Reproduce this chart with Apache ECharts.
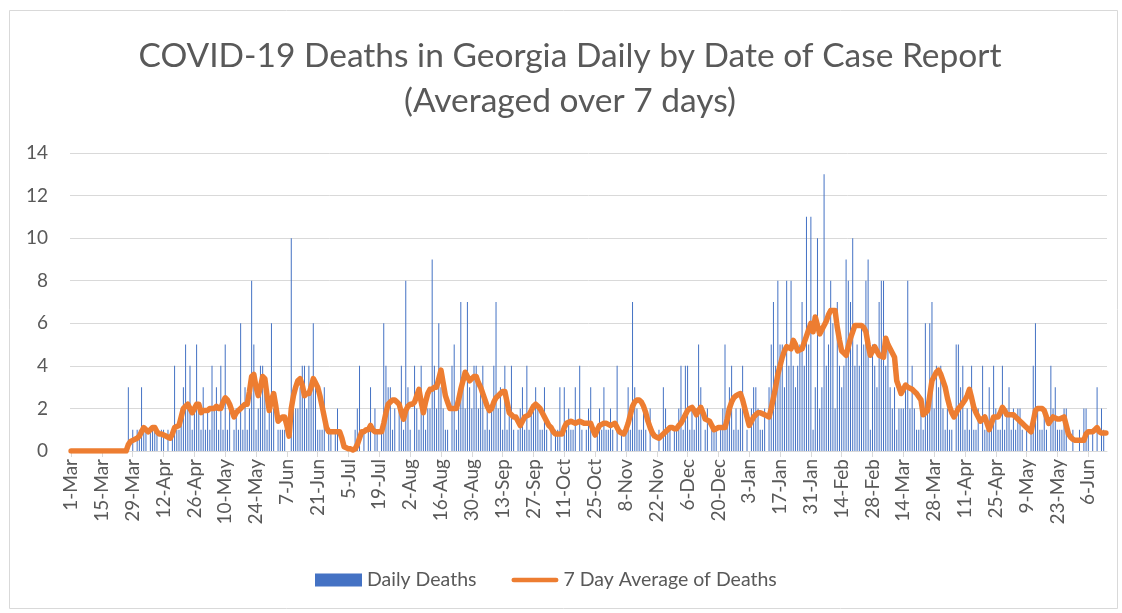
<!DOCTYPE html>
<html>
<head>
<meta charset="utf-8">
<script src="https://cdn.jsdelivr.net/npm/echarts@6/dist/echarts.min.js"></script>
<style>
html,body{margin:0;padding:0;background:#fff;}
#chart{width:1122px;height:613px;}
</style>
</head>
<body>
<div id="chart"></div>
<script>
// Categories: daily dates from 1-Mar-2020 to 14-Jun-2021 (471 days)
const startDate = [2020, 2, 1]; // year, month index, day
const dayCount = 471;
const monthNames = ['Jan','Feb','Mar','Apr','May','Jun','Jul','Aug','Sep','Oct','Nov','Dec'];

// Daily deaths (rows of 14 days)
const dailyDeaths = [
  0,0,0,0,0,0,0,0,0,0,0,0,0,0,
  0,0,0,0,0,0,0,0,0,0,0,0,3,0,
  1,0,1,1,3,1,1,0,1,1,1,1,0,1,
  1,0,1,0,1,4,1,1,2,3,5,2,4,1,
  2,5,2,1,3,1,2,1,4,2,3,1,4,1,
  5,1,2,0,1,2,1,6,1,3,1,2,8,5,
  1,2,4,4,3,1,2,6,2,0,1,1,1,1,
  0,0,10,3,2,2,3,4,4,2,4,3,6,3,
  1,1,1,3,0,1,1,0,1,2,0,0,0,0,
  0,0,0,1,2,4,0,1,0,1,3,0,2,1,
  0,1,6,4,3,3,1,2,0,2,4,1,8,3,
  1,0,4,2,1,4,2,1,2,2,9,4,2,6,
  3,2,1,1,0,4,5,1,2,7,3,2,7,3,
  2,4,4,2,3,4,1,2,1,2,4,7,2,3,
  1,4,1,2,4,1,0,1,2,3,1,4,1,2,
  2,3,2,1,1,3,1,0,1,0,1,1,3,0,
  3,1,2,1,1,3,0,4,1,0,1,2,3,0,
  0,1,2,1,3,1,1,2,1,0,4,0,1,0,
  1,3,1,7,3,2,1,1,2,1,0,2,0,0,
  0,1,0,3,2,1,1,0,1,1,2,4,1,4,
  4,1,2,1,2,5,3,0,1,2,0,1,1,1,
  0,1,2,5,2,3,4,1,2,1,2,4,0,1,
  0,2,3,3,2,1,1,2,0,3,5,7,4,8,
  5,5,3,8,4,8,4,3,4,5,7,4,11,5,
  11,1,3,10,2,3,13,4,5,8,6,2,7,4,
  3,4,9,8,7,10,4,5,4,6,5,8,9,1,
  5,4,3,7,8,8,4,5,3,2,3,1,2,2,
  2,3,8,2,4,2,1,1,2,1,6,2,6,7,
  2,4,3,4,2,1,2,1,1,0,5,5,3,4,
  1,2,1,4,1,1,2,0,4,1,1,3,1,4,
  2,1,1,4,1,2,3,1,2,1,2,2,1,0,
  1,0,1,4,6,2,1,1,2,1,0,4,2,3,
  1,1,1,2,2,0,0,1,0,0,1,0,2,2,
  1,0,1,0,3,0,2,1,0
];

// 7-day average of deaths (rows of 14 days)
const avgDeaths = [
  0,0,0,0,0,0,0,0,0,0,0,0,0,0,
  0,0,0,0,0,0,0,0,0,0,0,0,0.3,0.45,
  0.5,0.55,0.6,0.7,0.9,1.1,1.0,0.9,1.0,1.1,1.1,0.9,0.8,0.8,
  0.75,0.7,0.65,0.6,0.8,1.1,1.15,1.2,1.6,2.0,2.1,2.2,2.0,1.8,
  2.0,2.2,2.2,1.8,1.9,1.9,1.9,2.0,2.0,2.0,2.1,2.0,2.0,2.3,
  2.5,2.4,2.2,1.9,1.6,1.8,1.9,2.0,2.1,2.2,2.2,2.8,3.5,3.6,
  3.0,2.6,3.0,3.5,3.4,2.6,1.9,2.4,2.7,2.1,1.4,1.5,1.6,1.6,
  1.2,0.7,2.0,2.6,3.0,3.3,3.4,3.1,2.6,2.7,2.7,3.0,3.4,3.2,
  3.0,2.6,2.1,1.6,1.1,0.9,0.9,0.9,0.9,0.9,0.9,0.6,0.2,0.15,
  0.1,0.1,0.05,0.1,0.3,0.6,0.9,0.9,1.0,1.0,1.2,1.0,0.9,0.9,
  0.9,0.9,1.3,1.8,2.2,2.3,2.4,2.4,2.3,2.2,1.8,1.5,1.9,2.1,
  2.2,2.2,2.3,2.6,2.9,2.3,1.8,2.3,2.7,2.9,2.9,3.0,3.0,3.4,
  3.8,3.2,2.6,2.3,2.0,2.0,2.0,2.0,2.4,2.9,3.3,3.7,3.5,3.3,
  3.4,3.5,3.5,3.2,3.0,2.7,2.4,2.1,1.9,2.0,2.3,2.5,2.6,2.7,
  2.8,2.8,2.3,1.8,1.7,1.6,1.6,1.4,1.2,1.4,1.6,1.65,1.7,1.9,
  2.1,2.2,2.1,2.0,1.8,1.6,1.4,1.2,1.1,0.9,0.8,0.8,0.8,0.8,
  1.1,1.3,1.35,1.4,1.35,1.3,1.35,1.4,1.35,1.3,1.3,1.3,1.3,1.0,
  0.75,1.0,1.2,1.25,1.3,1.3,1.25,1.2,1.25,1.3,1.1,0.9,0.85,0.8,
  1.0,1.3,1.7,2.1,2.3,2.4,2.4,2.3,2.1,1.8,1.4,1.1,0.85,0.7,
  0.65,0.6,0.7,0.8,0.9,1.0,1.1,1.1,1.05,1.05,1.2,1.3,1.5,1.7,
  1.9,2.0,2.05,1.9,1.7,1.9,2.05,1.8,1.5,1.45,1.4,1.2,1.0,1.05,
  1.1,1.1,1.1,1.1,1.5,2.0,2.3,2.5,2.6,2.65,2.7,2.4,2.0,1.6,
  1.2,1.4,1.6,1.7,1.8,1.8,1.75,1.7,1.65,1.6,2.0,2.5,3.0,3.6,
  4.0,4.4,4.7,4.9,4.85,4.8,5.2,5.0,4.7,4.75,4.8,5.1,5.4,5.7,
  6.0,5.6,6.3,5.9,5.5,5.7,5.9,6.1,6.4,6.6,6.6,6.6,5.8,5.2,
  4.7,4.6,4.5,4.9,5.3,5.6,5.9,5.9,5.9,5.9,5.8,5.6,5.0,4.5,
  4.7,4.9,4.7,4.5,4.45,4.4,5.3,5.0,4.8,4.6,4.4,3.3,3.0,2.7,
  2.9,3.1,3.0,2.95,2.9,2.8,2.7,2.55,2.4,1.7,1.8,1.9,2.6,3.3,
  3.5,3.7,3.8,3.6,3.3,3.0,2.5,2.1,1.8,1.6,1.8,2.0,2.1,2.25,
  2.4,2.6,2.9,2.5,2.05,1.8,1.6,1.4,1.5,1.6,1.3,1.0,1.3,1.6,
  1.6,1.6,1.8,2.05,1.9,1.7,1.7,1.7,1.7,1.6,1.5,1.4,1.3,1.2,
  1.1,1.0,0.9,1.4,1.9,2.0,2.0,2.0,1.9,1.6,1.3,1.45,1.6,1.55,
  1.5,1.5,1.55,1.6,1.2,0.8,0.65,0.55,0.5,0.5,0.5,0.5,0.5,0.8,
  0.9,0.9,0.9,1.0,1.1,0.9,0.85,0.85,0.85
];

const yTicks = [0, 2, 4, 6, 8, 10, 12, 14];
const titleLines = ['COVID-19 Deaths in Georgia Daily by Date of Case Report', '(Averaged over 7 days)'];
const seriesNames = ['Daily Deaths', '7 Day Average of Deaths'];

const categories = [];
for (let i = 0; i < dayCount; i++) {
  const d = new Date(startDate[0], startDate[1], startDate[2] + i);
  categories.push(d.getDate() + '-' + monthNames[d.getMonth()]);
}

const FONT = 'Lato';
const TXT = '#595959';
const chart = echarts.init(document.getElementById('chart'), null, {renderer: 'canvas'});
chart.setOption({
  animation: false,
  backgroundColor: '#ffffff',
  textStyle: {fontFamily: FONT, color: TXT},
  graphic: [{
    type: 'rect', left: 7, top: 8,
    shape: {width: 1108, height: 598},
    style: {fill: 'none', stroke: '#d9d9d9', lineWidth: 1}, silent: true
  }],
  title: {
    text: titleLines.join('\n'),
    left: 570, top: 34, textAlign: 'center',
    padding: 0,
    textStyle: {fontFamily: FONT, fontSize: 33.5, fontWeight: 'normal', color: TXT, lineHeight: 45}
  },
  legend: {
    bottom: 23, left: 315, itemGap: 35,
    padding: 0,
    itemWidth: 47, itemHeight: 13,
    textStyle: {fontFamily: FONT, fontSize: 19.5, color: TXT},
    data: [
      {name: seriesNames[0], icon: 'rect'},
      {name: seriesNames[1], icon: 'path://M2.5,0 H47.5 A2.5,2.5 0 0 1 47.5,5 H2.5 A2.5,2.5 0 0 1 2.5,0 Z'}
    ]
  },
  grid: {left: 70, right: 15, top: 153, bottom: 162, containLabel: false},
  xAxis: {
    type: 'category',
    data: categories,
    boundaryGap: true,
    axisLine: {lineStyle: {color: '#d9d9d9', width: 1}},
    axisTick: {show: true, interval: 13, alignWithLabel: true, length: 6, lineStyle: {color: '#d9d9d9'}},
    axisLabel: {interval: 13, rotate: 90, fontFamily: FONT, fontSize: 19, color: TXT, margin: 8},
    splitLine: {show: false}
  },
  yAxis: {
    type: 'value',
    min: yTicks[0], max: yTicks[yTicks.length - 1], interval: 2,
    axisLine: {show: false},
    axisTick: {show: false},
    axisLabel: {fontFamily: FONT, fontSize: 19, color: TXT, margin: 22},
    splitLine: {lineStyle: {color: '#d9d9d9', width: 1}}
  },
  series: [
    {
      name: seriesNames[0], type: 'bar', data: dailyDeaths,
      barWidth: 1, itemStyle: {color: '#4472C4'}
    },
    {
      name: seriesNames[1], type: 'line', data: avgDeaths,
      symbol: 'none', smooth: false,
      lineStyle: {color: '#ED7D31', width: 5.5, cap: 'round', join: 'round'},
      itemStyle: {color: '#ED7D31'}
    }
  ]
});
</script>
</body>
</html>
